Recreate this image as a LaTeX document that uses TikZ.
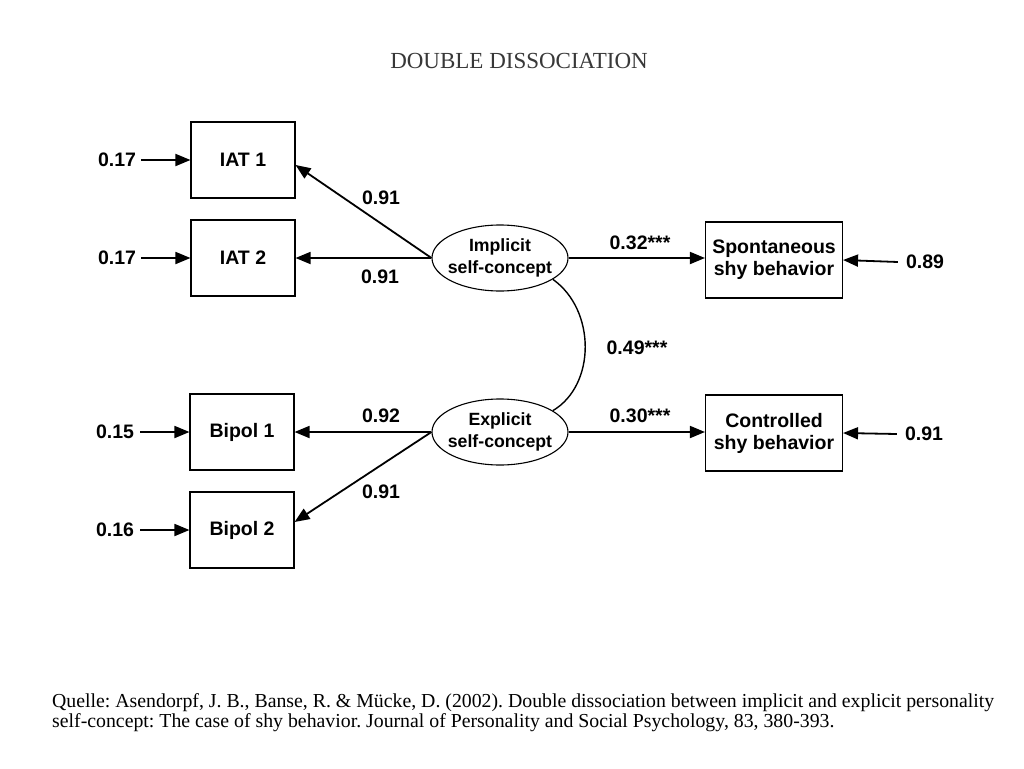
\documentclass[tikz,border=0pt]{standalone}
\usepackage{fontspec}
\setmainfont{Liberation Serif}
\newfontfamily\diag{Liberation Sans}
\usetikzlibrary{arrows.meta,shapes.geometric}
\frenchspacing
\begin{document}
\begin{tikzpicture}[x=1pt,y=-1pt,
  every node/.style={font=\diag\bfseries\fontsize{19.5}{22}\selectfont, inner sep=0pt},
  mbox/.style={draw, line width=1.1pt, minimum width=104pt, minimum height=76pt, align=center},
  latent/.style={ellipse, draw, line width=1.1pt, inner xsep=-14pt, inner ysep=0pt, minimum width=136pt, minimum height=66pt, align=center, font=\diag\bfseries\fontsize{17.7}{22}\selectfont},
  captxt/.style={font=\rmfamily\fontsize{19.8}{20}\selectfont, anchor=base west},
  arr/.style={line width=1.8pt, -{Triangle[length=15pt,width=12pt]}},
  corr/.style={line width=1.4pt}
]
\useasboundingbox (0,0) rectangle (1024,768);
\fill[white] (0,0) rectangle (1024,768);

\node[font=\rmfamily\fontsize{23}{26}\selectfont, text=black!78] (title) at (519,61) {DOUBLE DISSOCIATION};

\node[mbox] (iat1) at (243,160) {IAT 1};
\node[mbox] (iat2) at (243,258) {IAT 2};
\node[mbox] (bip1) at (242,432) {Bipol 1};
\node[mbox] (bip2) at (242,530) {Bipol 2};
\node[mbox, minimum width=137pt] (spon) at (774,260) {Spontaneous\\shy behavior};
\node[mbox, minimum width=137pt] (cont) at (774,433) {Controlled\\shy behavior};
\node[latent] (imp) at (500,258) {Implicit\\self-concept};
\node[latent] (exp) at (500,432) {Explicit\\self-concept};

\node (e1) at (117,160) {0.17};
\node (e2) at (117,258) {0.17};
\node (e3) at (115,432) {0.15};
\node (e4) at (115,530) {0.16};
\node (e5) at (925,262) {0.89};
\node (e6) at (924,434) {0.91};

\draw[arr] ([xshift=5pt]e1.east) -- (iat1.west);
\draw[arr] ([xshift=5pt]e2.east) -- (iat2.west);
\draw[arr] ([xshift=6pt]e3.east) -- (bip1.west);
\draw[arr] ([xshift=6pt]e4.east) -- (bip2.west);
\draw[arr] ([xshift=-8pt]e5.west) -- (spon.east);
\draw[arr] ([xshift=-8pt]e6.west) -- (cont.east);

\draw[arr] (imp.west) -- ([yshift=-5pt]iat1.east);
\draw[arr] (imp.west) -- (iat2.east);
\draw[arr] (exp.west) -- (bip1.east);
\draw[arr] (exp.west) -- ([yshift=8pt]bip2.east);
\draw[arr] (imp.east) -- (imp.east -| spon.west);
\draw[arr] (exp.east) -- (exp.east -| cont.west);

\draw[corr] (imp.-22) .. controls (596,310) and (596,385) .. (exp.22);

\node (l1) at (381,198) {0.91};
\node (l2) at (380,277) {0.91};
\node (l3) at (381,416) {0.92};
\node (l4) at (381,492) {0.91};
\node (l5) at (640,243) {0.32***};
\node (l6) at (640,416) {0.30***};
\node (l7) at (637,348) {0.49***};

\node[captxt] (cap1) at (52,707) {Quelle: Asendorpf, J. B., Banse, R. \& Mücke, D. (2002). Double dissociation between implicit and explicit personality};
\node[captxt] (cap2) at (52,727) {self-concept: The case of shy behavior. Journal of Personality and Social Psychology, 83, 380-393.};
\end{tikzpicture}
\end{document}
